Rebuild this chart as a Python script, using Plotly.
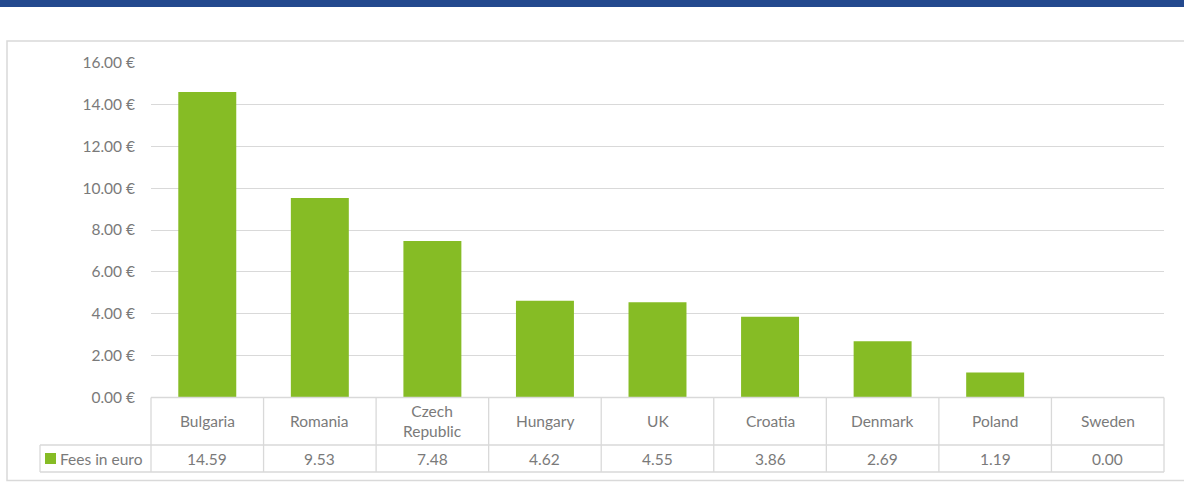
import plotly.graph_objects as go

countries = ["Bulgaria", "Romania", "Czech Republic", "Hungary", "UK", "Croatia", "Denmark", "Poland", "Sweden"]
country_labels = ["Bulgaria", "Romania", "Czech<br>Republic", "Hungary", "UK", "Croatia", "Denmark", "Poland", "Sweden"]
fees = [14.59, 9.53, 7.48, 4.62, 4.55, 3.86, 2.69, 1.19, 0.00]
series_name = "Fees in euro"
y_ticks = [0, 2, 4, 6, 8, 10, 12, 14, 16]
y_tick_text = [f"{v:.2f} €" for v in y_ticks]

W, H = 1184, 484
GREEN = "#86BC25"
GRID = "#D9D9D9"
TXT = "#7A7A7A"
FONT = "Lato, 'Open Sans', sans-serif"
FS = 15.5

def px(x):
    return x / W

def py(y):
    return 1 - y / H

x0, x1 = 151, 1164
y_top, y_zero = 62.5, 397.5
row1_bot, row2_bot = 445, 472
leg_x = 40

fig = go.Figure()
fig.add_trace(go.Bar(x=countries, y=fees, marker_color=GREEN, marker_line_width=0,
                     name=series_name, showlegend=False))

shapes = []
shapes.append(dict(type="rect", xref="paper", yref="paper", x0=0, x1=1, y0=py(7), y1=1,
                   fillcolor="#23498E", line_width=0, layer="above"))
shapes.append(dict(type="rect", xref="paper", yref="paper", x0=px(7), x1=px(1190), y0=py(480.5), y1=py(41),
                   fillcolor="rgba(0,0,0,0)", line=dict(color=GRID, width=1.5)))
line = dict(color=GRID, width=1.3)
shapes.append(dict(type="line", xref="paper", yref="paper", x0=px(x0), x1=px(x1), y0=py(y_zero), y1=py(y_zero), line=line))
shapes.append(dict(type="line", xref="paper", yref="paper", x0=px(leg_x), x1=px(x1), y0=py(row1_bot), y1=py(row1_bot), line=line))
shapes.append(dict(type="line", xref="paper", yref="paper", x0=px(leg_x), x1=px(x1), y0=py(row2_bot), y1=py(row2_bot), line=line))
shapes.append(dict(type="line", xref="paper", yref="paper", x0=px(leg_x), x1=px(leg_x), y0=py(row1_bot), y1=py(row2_bot), line=line))
n = len(countries)
cw = (x1 - x0) / n
for k in range(n + 1):
    xx = x0 + k * cw
    shapes.append(dict(type="line", xref="paper", yref="paper", x0=px(xx), x1=px(xx), y0=py(y_zero), y1=py(row2_bot), line=line))
shapes.append(dict(type="rect", xref="paper", yref="paper", x0=px(45), x1=px(56), y0=py(464), y1=py(453),
                   fillcolor=GREEN, line_width=0))

annotations = []
for c, lab, v in zip(countries, country_labels, fees):
    annotations.append(dict(x=c, xref="x", y=py((y_zero + row1_bot) / 2), yref="paper", text=lab,
                            showarrow=False, xanchor="center", yanchor="middle",
                            font=dict(family=FONT, size=FS, color=TXT)))
    annotations.append(dict(x=c, xref="x", y=py((row1_bot + row2_bot) / 2), yref="paper", text=f"{v:.2f}",
                            showarrow=False, xanchor="center", yanchor="middle",
                            font=dict(family=FONT, size=FS, color=TXT)))
annotations.append(dict(x=px(58), xref="paper", y=py((row1_bot + row2_bot) / 2), yref="paper", text=series_name,
                        showarrow=False, xanchor="left", yanchor="middle",
                        font=dict(family=FONT, size=FS, color=TXT)))

fig.update_layout(
    width=W, height=H,
    margin=dict(l=0, r=0, t=0, b=0, pad=0),
    paper_bgcolor="white", plot_bgcolor="white",
    bargap=0.485,
    shapes=shapes,
    annotations=annotations,
    xaxis=dict(domain=[px(x0), px(x1)], showticklabels=False, showgrid=False, zeroline=False,
               showline=False, ticks="", automargin=False),
    yaxis=dict(domain=[py(y_zero), py(y_top)], range=[0, 16], tickmode="array", tickvals=y_ticks,
               ticktext=y_tick_text, showgrid=True, gridcolor=GRID, gridwidth=1.3,
               zeroline=False, showline=False, ticks="", ticklabelstandoff=15, automargin=False,
               tickfont=dict(family=FONT, size=FS, color=TXT)),
    font=dict(family=FONT, size=FS, color=TXT),
)

fig.write_html("out.html")
